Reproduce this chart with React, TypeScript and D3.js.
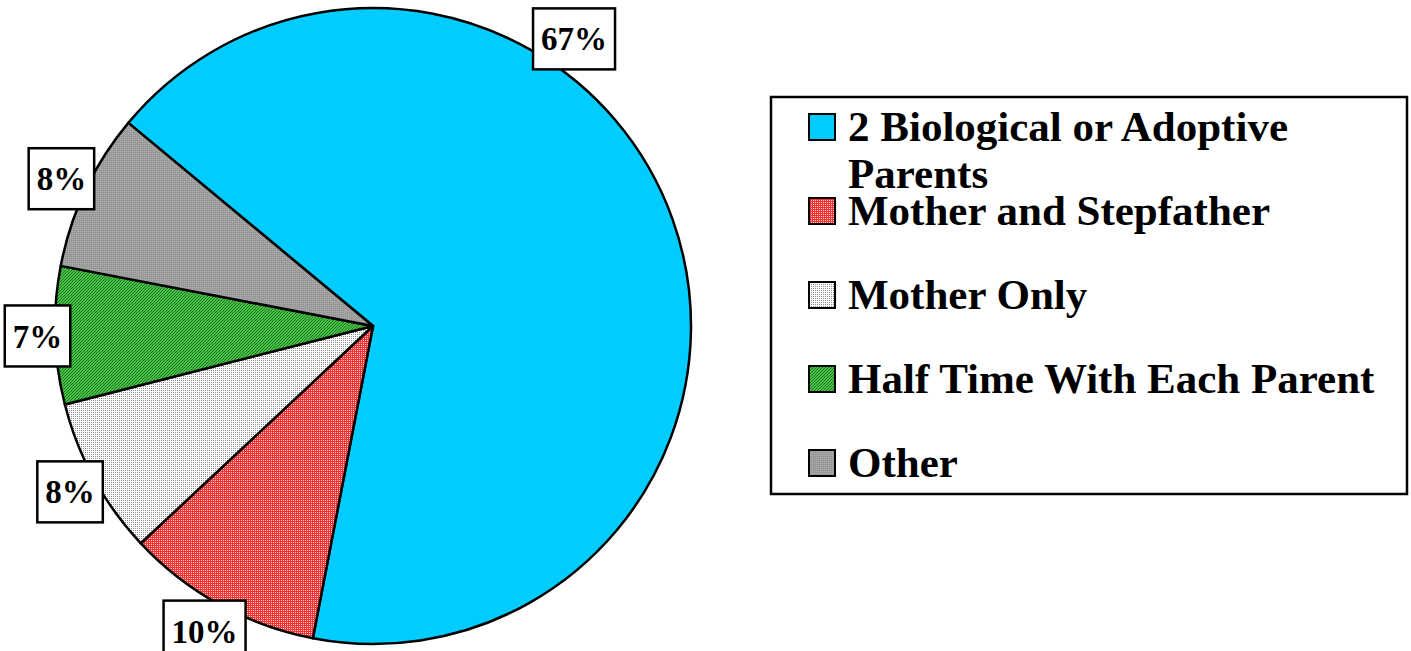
import React, { useEffect, useRef } from "react";
import * as d3 from "d3";

const categories = [
  "2 Biological or Adoptive Parents",
  "Mother and Stepfather",
  "Mother Only",
  "Half Time With Each Parent",
  "Other",
];
const values = [67, 10, 8, 7, 8];
const labels = ["67%", "10%", "8%", "7%", "8%"];
// legend text split into lines the way the original wraps it
const legendLines = [
  ["2 Biological or Adoptive", "Parents"],
  ["Mother and Stepfather"],
  ["Mother Only"],
  ["Half Time With Each Parent"],
  ["Other"],
];

const W = 1411;
const H = 651;
const FONT = "'Liberation Serif', 'Times New Roman', Times, serif";

export default function App() {
  const ref = useRef<SVGSVGElement>(null);

  useEffect(() => {
    const svg = d3.select(ref.current);
    svg.selectAll("*").remove();

    const defs = svg.append("defs");

    // red checker
    const pr = defs.append("pattern").attr("id", "pRed").attr("patternUnits", "userSpaceOnUse").attr("width", 2).attr("height", 2);
    pr.append("rect").attr("width", 2).attr("height", 2).attr("fill", "#f83030");
    pr.append("rect").attr("width", 1).attr("height", 1).attr("fill", "#ffd0d0");

    // white dotted
    const pw = defs.append("pattern").attr("id", "pWhite").attr("patternUnits", "userSpaceOnUse").attr("width", 2).attr("height", 2);
    pw.append("rect").attr("width", 2).attr("height", 2).attr("fill", "#ffffff");
    pw.append("rect").attr("width", 1).attr("height", 1).attr("fill", "#8c8c8c");

    // green diagonal
    const pg = defs.append("pattern").attr("id", "pGreen").attr("patternUnits", "userSpaceOnUse").attr("width", 3).attr("height", 3);
    pg.append("rect").attr("width", 3).attr("height", 3).attr("fill", "#48c048");
    pg.append("path").attr("d", "M0,3 L3,0").attr("stroke", "#1f7a1f").attr("stroke-width", 1);

    // gray
    const pgr = defs.append("pattern").attr("id", "pGray").attr("patternUnits", "userSpaceOnUse").attr("width", 2).attr("height", 2);
    pgr.append("rect").attr("width", 2).attr("height", 2).attr("fill", "#a4a4a4");
    pgr.append("rect").attr("width", 1).attr("height", 1).attr("fill", "#8e8e8e");

    const fills = ["#00ccff", "url(#pRed)", "url(#pWhite)", "url(#pGreen)", "url(#pGray)"];
    const color = d3.scaleOrdinal<string, string>().domain(categories).range(fills);

    const cx = 373;
    const cy = 326;
    const radius = 318;
    const start = (-50.3 * Math.PI) / 180;

    const pie = d3
      .pie<number>()
      .sort(null)
      .value((d) => d)
      .startAngle(start)
      .endAngle(start + 2 * Math.PI);
    const arcs = pie(values);

    const g = svg.append("g").attr("transform", `translate(${cx},${cy})`);
    const arc = d3.arc<d3.PieArcDatum<number>>().innerRadius(0).outerRadius(radius);

    g.selectAll("path.slice")
      .data(arcs)
      .enter()
      .append("path")
      .attr("class", "slice")
      .attr("d", arc)
      .attr("fill", (d, i) => color(categories[i]))
      .attr("stroke", "black")
      .attr("stroke-width", 2.5)
      .attr("stroke-linejoin", "round");

    // data labels (boxed), hugging the outer edge
    const boxH = 61;
    arcs.forEach((d, i) => {
      const mid = (d.startAngle + d.endAngle) / 2;
      // the big slice's label sits dragged toward the top
      const a = i === 0 ? (35 * Math.PI) / 180 : mid;
      const lg = g.append("g");
      const rect = lg.append("rect").attr("fill", "white").attr("stroke", "black").attr("stroke-width", 2.5);
      const t = lg
        .append("text")
        .text(labels[i])
        .attr("text-anchor", "middle")
        .attr("dy", "0.35em")
        .attr("font-family", FONT)
        .attr("font-weight", "bold")
        .attr("font-size", 33);
      const w = (t.node() as SVGTextElement).getComputedTextLength() + 16;
      rect.attr("x", -w / 2).attr("y", -boxH / 2).attr("width", w).attr("height", boxH);
      const r = 302 + (w / 2) * Math.abs(Math.sin(a)) + (boxH / 2) * Math.abs(Math.cos(a));
      lg.attr("transform", `translate(${r * Math.sin(a)},${-r * Math.cos(a)})`);
    });

    // legend
    const legend = svg.append("g");
    legend
      .append("rect")
      .attr("x", 771)
      .attr("y", 97)
      .attr("width", 636)
      .attr("height", 397)
      .attr("fill", "white")
      .attr("stroke", "black")
      .attr("stroke-width", 2.5);

    const legendG = legend
      .selectAll(".legend")
      .data(categories)
      .enter()
      .append("g")
      .attr("class", "legend")
      .attr("transform", (d, i) => `translate(809,${114 + i * 84})`);

    legendG
      .append("rect")
      .attr("width", 26)
      .attr("height", 26)
      .attr("fill", (d) => color(d))
      .attr("stroke", "black")
      .attr("stroke-width", 2);

    legendG.each(function (d, i) {
      const t = d3
        .select(this)
        .append("text")
        .attr("x", 39)
        .attr("y", 27)
        .attr("font-family", FONT)
        .attr("font-weight", "bold")
        .attr("font-size", 43);
      legendLines[i].forEach((line, j) => {
        t.append("tspan").attr("x", 39).attr("dy", j === 0 ? 0 : 47).text(line);
      });
    });
  }, []);

  return (
    <svg
      ref={ref}
      width={W}
      height={H}
      style={{ position: "absolute", left: 0, top: 0, background: "white" }}
    />
  );
}
